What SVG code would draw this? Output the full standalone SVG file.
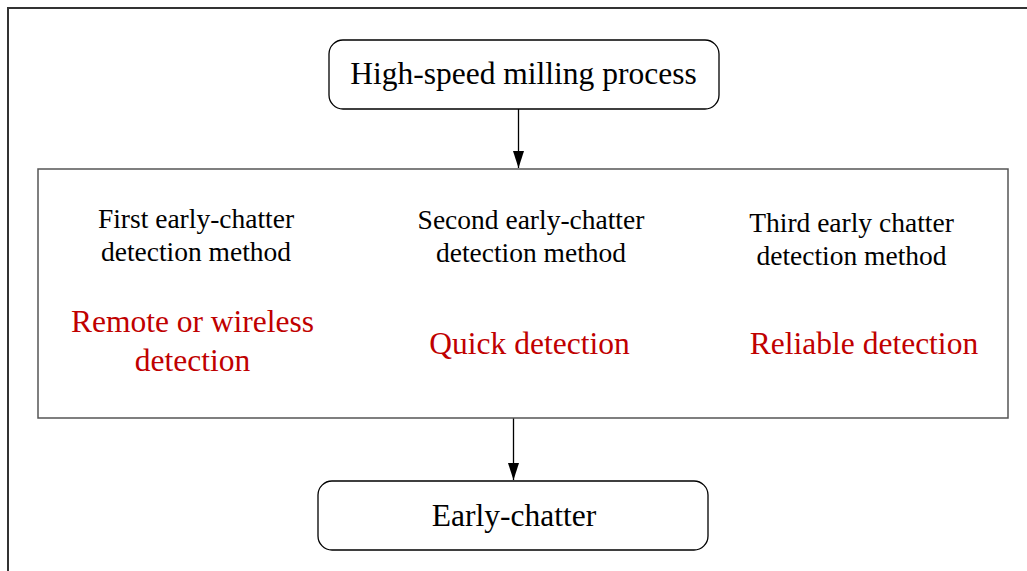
<svg xmlns="http://www.w3.org/2000/svg" width="1027" height="571" viewBox="0 0 1027 571">
<style>
.box{fill:#fff;stroke:#000;stroke-width:1.3}
.t{font-family:"Liberation Serif","Times New Roman",serif;fill:#000;text-anchor:middle}
.b{font-size:31.5px}
.s{font-size:27.5px}
.r{font-size:31.5px;fill:#C00000}
.c{stroke:#000;stroke-width:1.3;fill:none}
</style>
<defs>
<marker id="ah" markerWidth="17" markerHeight="18" refX="17" refY="9" orient="auto" markerUnits="userSpaceOnUse">
<path d="M0,3.5 L17,9 L0,14.5 Z" fill="#000"/>
</marker>
</defs>
<rect width="1027" height="571" fill="#fff"/>
<path d="M8,571 V8 H1027" fill="none" stroke="#333" stroke-width="2"/>
<g id="connectors">
<line class="c" x1="518.5" y1="109" x2="518.5" y2="168" marker-end="url(#ah)"/>
<line class="c" x1="513.5" y1="418" x2="513.5" y2="480" marker-end="url(#ah)"/>
</g>
<g id="top">
<rect class="box" x="329" y="40" width="390" height="69" rx="14"/>
<text class="t b" x="523.5" y="84">High-speed milling process</text>
</g>
<g id="methods">
<rect x="38" y="169" width="970" height="249" fill="#fff" stroke="#555" stroke-width="1.5"/>
<g id="m1">
<text class="t s" x="196" y="228">First early-chatter</text>
<text class="t s" x="196" y="261">detection method</text>
<text class="t r" x="192.5" y="332">Remote or wireless</text>
<text class="t r" x="192.5" y="371">detection</text>
</g>
<g id="m2">
<text class="t s" x="531" y="229">Second early-chatter</text>
<text class="t s" x="531" y="262">detection method</text>
<text class="t r" x="529.5" y="354">Quick detection</text>
</g>
<g id="m3">
<text class="t s" x="851.5" y="232">Third early chatter</text>
<text class="t s" x="851.5" y="265">detection method</text>
<text class="t r" x="864" y="354">Reliable detection</text>
</g>
</g>
<g id="bottom">
<rect class="box" x="318" y="481" width="390" height="69" rx="14"/>
<text class="t b" x="514" y="526">Early-chatter</text>
</g>
</svg>
